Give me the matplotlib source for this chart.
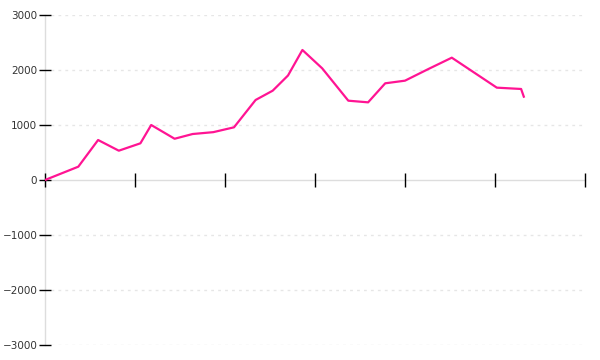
import matplotlib
matplotlib.use('Agg')
import matplotlib.pyplot as plt

# x positions (axis units, 6 tick intervals) and values
x_vals = [0.0, 0.37, 0.59, 0.82, 1.06, 1.18, 1.44, 1.64, 1.87, 2.10, 2.34, 2.53,
          2.70, 2.86, 3.08, 3.37, 3.59, 3.78, 4.00, 4.26, 4.52, 5.02, 5.29, 5.32]
y_vals = [0, 242, 727, 533, 667, 1000, 750, 836, 870, 958, 1455, 1624,
          1900, 2364, 2030, 1442, 1412, 1758, 1806, 2018, 2224, 1679, 1655, 1515]

x_ticks = [0, 1, 2, 3, 4, 5, 6]
y_ticks = [-3000, -2000, -1000, 0, 1000, 2000, 3000]

fig = plt.figure(figsize=(6, 3.6), dpi=100)
ax = fig.add_axes([0.075, 15 / 360, 0.9, 330 / 360])

# dotted grid, skipping the zero line (drawn by the spine)
for y in y_ticks:
    if y != 0:
        ax.axhline(y, xmin=0.012, color='#e6e6e6', lw=1, ls=(0, (2, 3)), zorder=0)

ax.plot(x_vals, y_vals, color='#ff1493', lw=1.6, zorder=3)

ax.set_xlim(0, 6)
ax.set_ylim(-3000, 3000)
ax.set_xticks(x_ticks)
ax.set_xticklabels([])
ax.set_yticks(y_ticks)

for s in ['top', 'right']:
    ax.spines[s].set_visible(False)
ax.spines['bottom'].set_position(('data', 0))
for s in ['bottom', 'left']:
    ax.spines[s].set_color('#dddddd')
    ax.spines[s].set_linewidth(1)
    ax.spines[s].set_zorder(1)

ax.tick_params(axis='x', direction='inout', length=10, width=1, color='black')
ax.tick_params(axis='y', direction='inout', length=9, width=1, color='black',
               labelsize=7.5, labelcolor='#333333', pad=1)

fig.savefig('out.png', dpi=100)
